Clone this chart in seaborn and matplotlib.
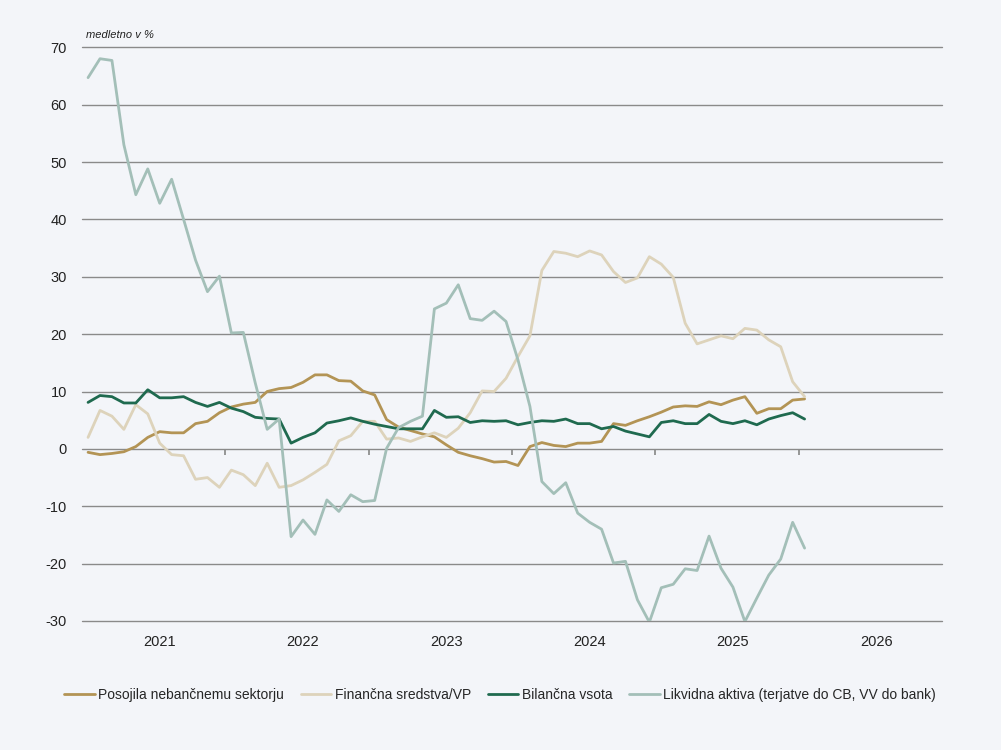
import numpy as np
import pandas as pd
import matplotlib
matplotlib.use("Agg")
import matplotlib.pyplot as plt
from matplotlib import font_manager
import seaborn as sns

# Monthly year-on-year growth, %, Jan 2021 onwards
posojila = [-0.6, -1.0, -0.8, -0.5, 0.4, 2.0, 3.0, 2.8, 2.8, 4.4, 4.8, 6.3,
            7.3, 7.8, 8.1, 10.0, 10.5, 10.7, 11.6, 12.9, 12.9, 11.9, 11.8, 10.1,
            9.4, 5.1, 3.8, 3.2, 2.6, 2.1, 0.7, -0.6, -1.2, -1.7, -2.3, -2.2,
            -2.9, 0.4, 1.1, 0.6, 0.4, 1.0, 1.0, 1.3, 4.4, 4.1, 4.9, 5.6,
            6.4, 7.3, 7.5, 7.4, 8.2, 7.7, 8.5, 9.1, 6.2, 7.0, 7.0, 8.5, 8.7]
financna = [2.0, 6.7, 5.7, 3.4, 7.7, 6.1, 1.0, -1.0, -1.2, -5.3, -5.0, -6.7,
            -3.7, -4.5, -6.4, -2.5, -6.7, -6.4, -5.4, -4.1, -2.7, 1.4, 2.3, 4.8,
            4.8, 1.7, 1.9, 1.3, 2.1, 2.8, 2.0, 3.6, 6.3, 10.1, 10.0, 12.3,
            16.1, 19.7, 31.1, 34.4, 34.1, 33.5, 34.5, 33.8, 30.9, 29.0, 29.8, 33.5,
            32.2, 29.9, 21.9, 18.3, 19.0, 19.7, 19.2, 21.0, 20.7, 19.0, 17.8, 11.7, 9.1]
bilancna = [8.1, 9.3, 9.1, 8.0, 8.0, 10.3, 8.9, 8.9, 9.1, 8.1, 7.4, 8.1,
            7.1, 6.5, 5.5, 5.3, 5.2, 1.0, 2.0, 2.8, 4.5, 4.9, 5.4, 4.8,
            4.3, 3.9, 3.5, 3.5, 3.5, 6.7, 5.5, 5.6, 4.6, 4.9, 4.8, 4.9,
            4.2, 4.6, 4.9, 4.8, 5.2, 4.4, 4.4, 3.5, 3.9, 3.1, 2.6, 2.1,
            4.6, 4.9, 4.4, 4.4, 6.0, 4.8, 4.4, 4.9, 4.2, 5.2, 5.8, 6.3, 5.2]
likvidna = [64.7, 68.0, 67.7, 53.0, 44.3, 48.8, 42.8, 47.0, 40.0, 32.9, 27.4, 30.1,
            20.2, 20.3, 11.5, 3.4, 5.2, -15.3, -12.4, -14.9, -8.9, -10.9, -8.0, -9.2,
            -9.0, 0.1, 3.7, 4.8, 5.7, 24.4, 25.4, 28.6, 22.7, 22.4, 24.0, 22.2,
            15.5, 7.4, -5.7, -7.8, -5.9, -11.2, -12.8, -14.0, -19.9, -19.6, -26.3, -30.2,
            -24.2, -23.6, -20.9, -21.2, -15.2, -20.8, -24.1, -30.1, -26.0, -22.0, -19.2, -12.8, -17.3]

series_names = ["Posojila nebančnemu sektorju", "Finančna sredstva/VP",
                "Bilančna vsota", "Likvidna aktiva (terjatve do CB, VV do bank)"]
colors = ["#B39455", "#DDD3BB", "#1F6A4F", "#A3BFB8"]
years = ["2021", "2022", "2023", "2024", "2025", "2026"]

bg = "#F3F5F9"
sns.set_theme(style="white")
plt.rcParams["font.family"] = ["Liberation Sans", "DejaVu Sans"]
plt.rcParams["axes.unicode_minus"] = False

# narrow font for the legend if there is one
installed = {f.name for f in font_manager.fontManager.ttflist}
if "Liberation Sans Narrow" in installed:
    leg_font = {"family": ["Liberation Sans Narrow", "DejaVu Sans"], "size": 11}
else:
    leg_font = {"family": ["Liberation Sans", "DejaVu Sans"], "size": 10}

month = np.arange(len(posojila)) + 0.5
df = pd.DataFrame({"month": month, series_names[0]: posojila, series_names[1]: financna,
                   series_names[2]: bilancna, series_names[3]: likvidna})
long = df.melt(id_vars="month", var_name="serija", value_name="vrednost")

fig = plt.figure(figsize=(10.01, 7.5), dpi=100, facecolor=bg)
ax = fig.add_axes([0.082, 0.172, 0.859, 0.765], facecolor=bg)

sns.lineplot(data=long, x="month", y="vrednost", hue="serija", hue_order=series_names,
             palette=colors, linewidth=2, ax=ax)

ax.set_xlim(0, 72)
ax.set_ylim(-30, 70)
ax.set_yticks(range(-30, 71, 10))
ax.yaxis.grid(True, color="#8A8A8A", linewidth=1)
for gl in ax.get_ygridlines():
    gl.set_clip_on(False)
ax.set_axisbelow(True)
for s in ax.spines.values():
    s.set_visible(False)
ax.tick_params(axis="y", length=0, labelsize=10.5, pad=11, colors="#222222")
ax.set_xticks([6.5 + 12 * k for k in range(len(years))])
ax.set_xticklabels(years)
ax.tick_params(axis="x", length=0, labelsize=10.5, pad=10, colors="#222222")
ax.set_xlabel("")
ax.set_ylabel("")

# year boundary ticks on the zero line
sec = ax.secondary_xaxis(0.3)
sec.set_xticks([12 * k for k in range(1, 6)])
sec.tick_params(axis="x", length=4, direction="out", color="#8A8A8A", labelbottom=False)
sec.spines["bottom"].set_visible(False)

ax.text(0.004, 1.012, "medletno v %", transform=ax.transAxes, fontsize=8,
        style="italic", ha="left", va="bottom", color="#222222")

ax.legend(loc="upper center", bbox_to_anchor=(0.486, -0.095), ncol=4, frameon=False,
          prop=leg_font, handlelength=2.2, handletextpad=0.25, columnspacing=1.2)

fig.savefig("out.png", dpi=100, facecolor=bg)
